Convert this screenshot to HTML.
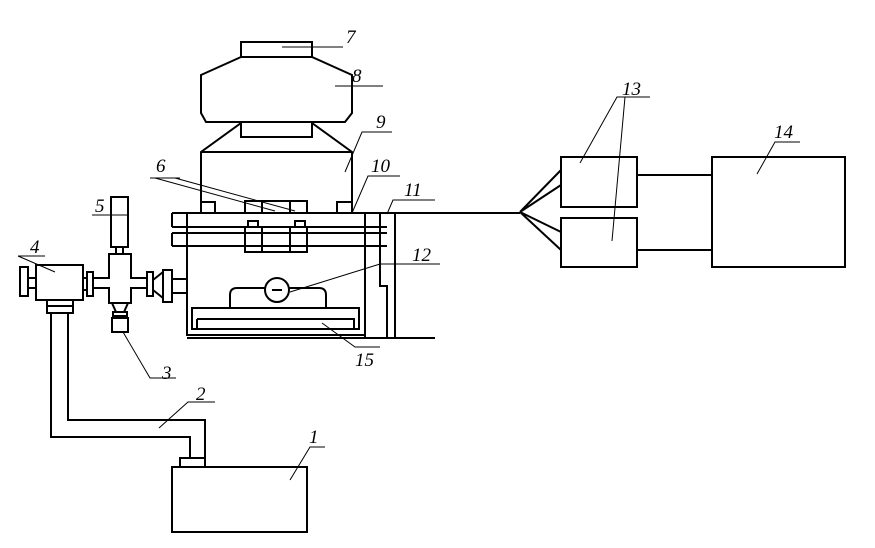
<!DOCTYPE html>
<html><head><style>body{margin:0;background:#fff}svg{display:block}
text{font-family:"Liberation Serif",serif;font-style:italic;font-size:19px;fill:#000}</style></head>
<body><svg width="875" height="548" viewBox="0 0 875 548" xmlns="http://www.w3.org/2000/svg">
<g fill="none" stroke="#000" stroke-width="2">
<!-- 7,8 -->
<rect x="241" y="42" width="71" height="15"/>
<path d="M241 57 L201 75 L201 113 L206 122 L345 122 L352 113 L352 75 L312 57 Z"/>
<rect x="241" y="122" width="71" height="15"/>
<!-- 9 -->
<path d="M241 123 L201 152 L201 213 M312 123 L352 152 L352 213 M201 152 L352 152"/>
<path d="M201 202 L215 202 L215 213 M352 202 L337 202 L337 213"/>
<rect x="245" y="201" width="62" height="12"/>
<path d="M262 201 V213 M290 201 V213"/>
<!-- plates -->
<path d="M172 213 H520 M172 227 H387 M172 213 V227 M172 233 H387 M172 246 H387 M172 233 V246"/>
<rect x="248" y="221" width="10" height="6"/><rect x="295" y="221" width="10" height="6"/>
<rect x="245" y="233" width="62" height="19"/><path d="M262 227 V252 M290 227 V252 M245 227 V233 M307 227 V233"/>
<!-- chamber -->
<path d="M187 213 V335 H365 V213 M187 338 H435"/>
<path d="M365 213 V338 M395 213 V338 M380 213 V286 H387 V338"/>
<path d="M230 308 V295 Q230 288 237 288 H319 Q326 288 326 295 V308"/>
<circle cx="277" cy="290" r="12" fill="#fff"/>
<path d="M272 290 H282"/>
<rect x="192" y="308" width="167" height="21"/><path d="M197 319 H354 V329 M197 319 V329"/>
<!-- left assembly -->
<rect x="111" y="197" width="17" height="50"/>
<path d="M116 247 V254 M123 247 V254"/>
<path d="M109 254 H131 V278 H147 V288 H131 V303 H109 V288 H93 V278 H109 Z"/>
<rect x="87" y="272" width="6" height="24"/><rect x="147" y="272" width="6" height="24"/>
<path d="M153 280 L163 272 M153 290 L163 298"/>
<rect x="163" y="270" width="9" height="32"/><path d="M172 279 H187 M172 293 H187"/>
<path d="M112 303 L128 303 L124 312 L116 312 Z"/>
<rect x="113" y="312" width="14" height="4"/><rect x="112" y="318" width="16" height="14"/>
<rect x="36" y="265" width="47" height="35"/>
<rect x="20" y="267" width="8" height="29"/><path d="M28 278 H36 M28 288 H36 M83 278 H87 M83 290 H87"/>
<rect x="47" y="300" width="26" height="13"/><path d="M47 306 H73"/>
<path d="M51 313 V437 H190 V458 M68 313 V420 H205 V458"/>
<rect x="180" y="458" width="25" height="9"/>
<rect x="172" y="467" width="135" height="65"/>
<!-- right -->
<path d="M520 212 L561 170 M520 212 L561 185 M520 212 L561 232 M520 212 L561 250"/>
<rect x="561" y="157" width="76" height="50"/>
<rect x="561" y="218" width="76" height="49"/>
<rect x="712" y="157" width="133" height="110"/>
<path d="M637 175 H712 M637 250 H712"/>
</g>
<g fill="none" stroke="#000" stroke-width="1">
<path d="M282 47 H343 M335 86 H383 M345 172 L362 132 H392 M352 213 L368 176 H400 M387 214 L393 200 H435"/>
<path d="M155 178 L275 211 M175 178 L295 211 M150 178 H180"/>
<path d="M290 292 L380 264 H440 M322 323 L355 347 H380 M123 332 L150 378 H176"/>
<path d="M159 428 L188 402 H215 M290 480 L310 447 H325"/>
<path d="M92 215 H128 M18 256 L55 272 M18 256 H45"/>
<path d="M580 163 L617 97 H650 M612 241 L625 97 M757 174 L775 142 H800"/>
</g>
<text x="346" y="43">7</text><text x="352" y="82">8</text><text x="376" y="128">9</text>
<text x="156" y="172">6</text><text x="371" y="172">10</text><text x="404" y="196">11</text>
<text x="412" y="261">12</text><text x="355" y="366">15</text><text x="162" y="379">3</text>
<text x="196" y="400">2</text><text x="309" y="443">1</text><text x="95" y="212">5</text>
<text x="30" y="253">4</text><text x="622" y="95">13</text><text x="774" y="138">14</text>
</svg></body></html>
